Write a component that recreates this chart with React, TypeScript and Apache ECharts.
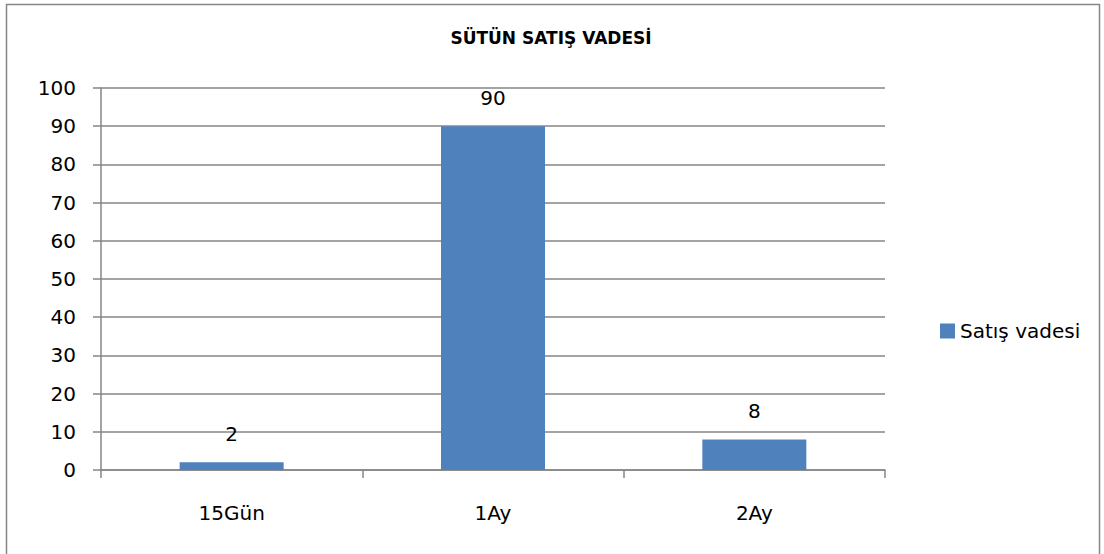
import React, { useEffect, useRef } from "react";
import * as echarts from "echarts";

const title = "SÜTÜN SATIŞ VADESİ";
const categories = ["15Gün", "1Ay", "2Ay"];
const seriesName = "Satış vadesi";
const values = [2, 90, 8];

const FONT = "'DejaVu Sans', sans-serif";
const GRAY = "#868686";

export default function App() {
  const ref = useRef<HTMLDivElement>(null);
  useEffect(() => {
    if (!ref.current) return;
    const chart = echarts.init(ref.current, null, { renderer: "svg" });
    chart.setOption({
      animation: false,
      backgroundColor: "#ffffff",
      textStyle: { fontFamily: FONT },
      title: {
        text: title,
        left: 546,
        top: 24,
        textAlign: "center",
        textStyle: { fontFamily: FONT, fontWeight: "bold", fontSize: 17, color: "#000" },
      },
      graphic: [
        {
          type: "rect",
          shape: { x: 6.5, y: 4.5, width: 1093, height: 560 },
          style: { fill: "none", stroke: GRAY, lineWidth: 1.5 },
          silent: true,
        },
      ],
      legend: {
        orient: "vertical",
        left: 935,
        top: 316,
        itemWidth: 15,
        itemHeight: 15,
        itemGap: 8,
        icon: "rect",
        textStyle: { fontFamily: FONT, fontSize: 20, color: "#000" },
        data: [seriesName],
      },
      grid: { left: 101, right: 219, top: 88, bottom: 84, containLabel: false },
      xAxis: {
        type: "category",
        data: categories,
        axisLine: { show: true, lineStyle: { color: GRAY, width: 1.5 } },
        axisTick: { show: true, length: 8, lineStyle: { color: GRAY, width: 1.5 } },
        axisLabel: { fontFamily: FONT, fontSize: 20, color: "#000", margin: 33 },
      },
      yAxis: {
        type: "value",
        min: 0,
        max: 100,
        interval: 10,
        axisLine: { show: true, lineStyle: { color: GRAY, width: 1.5 } },
        axisTick: { show: true, length: 8, lineStyle: { color: GRAY, width: 1.5 } },
        axisLabel: { fontFamily: FONT, fontSize: 20, color: "#000", margin: 25 },
        splitLine: { show: true, lineStyle: { color: GRAY, width: 1.5 } },
      },
      series: [
        {
          name: seriesName,
          type: "bar",
          data: values,
          barWidth: 104,
          itemStyle: { color: "#4F81BD" },
          label: {
            show: true,
            position: "top",
            distance: 18,
            fontFamily: FONT,
            fontSize: 20,
            color: "#000",
          },
        },
      ],
    });
    return () => chart.dispose();
  }, []);
  return (
    <div
      ref={ref}
      style={{ position: "absolute", left: 0, top: 0, width: 1104, height: 554 }}
    />
  );
}
